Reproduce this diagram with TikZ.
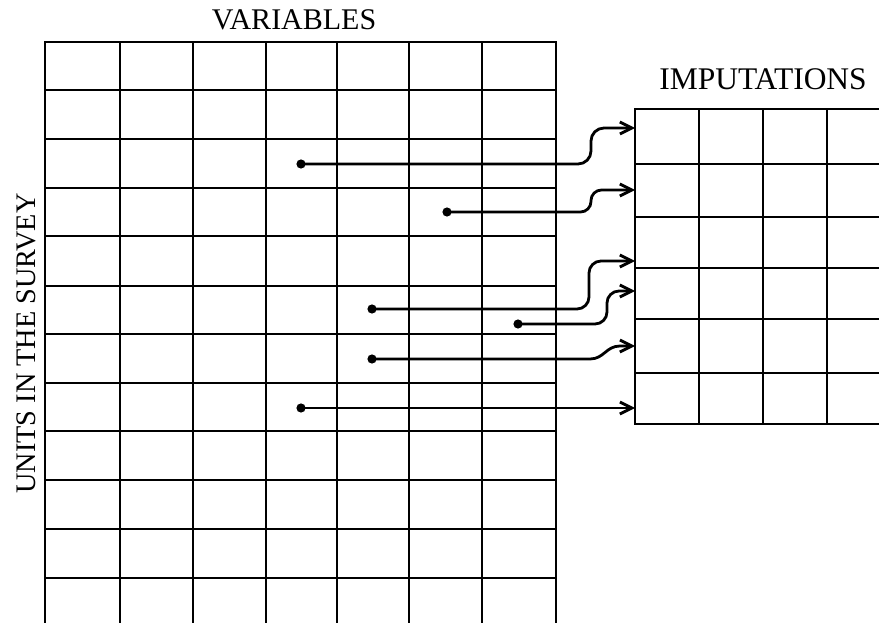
\documentclass[tikz,border=0pt]{standalone}
\usepackage{fontspec}
\setmainfont{Liberation Serif}
\usetikzlibrary{arrows.meta}
\begin{document}
\begin{tikzpicture}[x=1pt,y=-1pt,
  gridline/.style={line width=1.4pt,black},
  conn/.style={line width=2.8pt,-{Straight Barb[length=12pt,width=12pt]}},
  dotmark/.style={fill=black},
  lbl/.style={inner sep=0pt,anchor=base,font=\fontsize{30}{36}\selectfont}]
\useasboundingbox (0,0) rectangle (879,623);
\begin{scope}
\clip (0,0) rectangle (879,623);
% left grid
\foreach \x in {45,120,193,266,337,409,482,556} \draw[gridline] (\x,42) -- (\x,630);
\foreach \y in {42,90,139,188,236,286,334,383,431,480,529,578} \draw[gridline] (44.3,\y) -- (556.7,\y);
% right grid
\foreach \x in {635,699,763,827} \draw[gridline] (\x,109) -- (\x,424);
\foreach \y in {109,164,217,268,319,373,424} \draw[gridline] (634.3,\y) -- (885,\y);
\end{scope}
% labels
\node[lbl] (varlabel) at (294,30) {VARIABLES};
\node[lbl,font=\fontsize{31.5}{36}\selectfont] (implabel) at (763,90) {IMPUTATIONS};
\node[lbl,rotate=90,font=\fontsize{28.3}{34}\selectfont] (unitlabel) at (35,343.5) {UNITS IN THE SURVEY};
% connector points
\coordinate (s1) at (301,164);
\coordinate (s2) at (447,212);
\coordinate (s3) at (372,309);
\coordinate (s4) at (518,324);
\coordinate (s5) at (372,359);
\coordinate (s6) at (301,408);
\coordinate (e1) at (635,128);
\coordinate (e2) at (635,190);
\coordinate (e3) at (635,261);
\coordinate (e4) at (635,291);
\coordinate (e5) at (635,346);
\coordinate (e6) at (635,408);
% connectors
\draw[conn,rounded corners=13pt] (s1) -- (591,164) -- (591,128) -- (e1);
\draw[conn,rounded corners=10.5pt] (s2) -- (591,212) -- (591,190) -- (e2);
\draw[conn,rounded corners=12pt] (s3) -- (589,309) -- (589,261) -- (e3);
\draw[conn,rounded corners=12pt] (s4) -- (607,324) -- (607,291) -- (e4);
\draw[conn] (s5) -- (590,359) .. controls (604,359) and (606,346) .. (620,346) -- (e5);
\draw[conn] (s6) -- (e6);
% dots
\foreach \p in {s1,s2,s3,s4,s5,s6} \fill[dotmark] (\p) circle[radius=4.6];
\end{tikzpicture}
\end{document}
